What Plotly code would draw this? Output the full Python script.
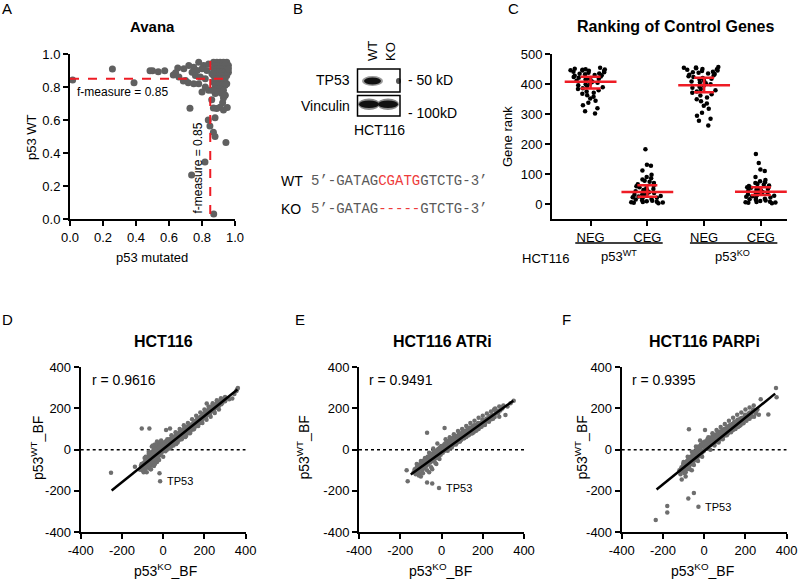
import plotly.graph_objects as go

W, H = 800, 581
def px(x): return x / W
def py(y): return 1 - y / H

FONT = "Liberation Sans, Arial, sans-serif"
GREY = "#606060"
RED = "#ee1c25"

# ---------------- Panel A data ----------------
A_mut = [0.016, 0.257, 0.388, 0.485, 0.50, 0.535, 0.574, 0.626, 0.64, 0.653, 0.687, 0.717, 0.727, 0.737,
         0.818, 0.838, 0.848, 0.871, 0.869, 0.879, 0.945, 0.889, 0.879, 0.909, 0.93, 0.953, 0.925, 0.869,
         0.859, 0.93, 0.94,
         0.72, 0.75, 0.78, 0.81, 0.84, 0.74, 0.77, 0.80, 0.83, 0.76, 0.79, 0.82, 0.78, 0.80, 0.82, 0.84,
         0.75, 0.70, 0.66, 0.69,
         0.87, 0.89, 0.91, 0.93, 0.95, 0.88, 0.90, 0.92, 0.94, 0.96, 0.87, 0.89, 0.91, 0.93, 0.95, 0.88,
         0.90, 0.92, 0.94, 0.96, 0.87, 0.89, 0.91, 0.93, 0.95, 0.88, 0.90, 0.92, 0.94, 0.87, 0.89, 0.91,
         0.93, 0.88, 0.90, 0.92, 0.94, 0.89, 0.91, 0.93, 0.90, 0.92, 0.94, 0.88, 0.86, 0.95, 0.96, 0.86]
A_wt = [0.842, 0.909, 0.826, 0.899, 0.899, 0.893, 0.899, 0.873, 0.887, 0.915, 0.836, 0.826, 0.671, 0.267,
        0.345, 0.60, 0.564, 0.03, 0.525, 0.50, 0.463, 0.67, 0.614, 0.677, 0.661, 0.675, 0.705, 0.672,
        0.723, 0.733, 0.75,
        0.93, 0.92, 0.95, 0.93, 0.94, 0.89, 0.90, 0.91, 0.90, 0.87, 0.86, 0.85, 0.82, 0.77, 0.80, 0.78,
        0.82, 0.84, 0.86, 0.91,
        0.95, 0.95, 0.95, 0.95, 0.95, 0.93, 0.93, 0.93, 0.93, 0.93, 0.91, 0.91, 0.91, 0.91, 0.91, 0.89,
        0.89, 0.89, 0.89, 0.89, 0.87, 0.87, 0.87, 0.87, 0.87, 0.85, 0.85, 0.85, 0.85, 0.83, 0.83, 0.83,
        0.83, 0.81, 0.81, 0.81, 0.81, 0.79, 0.79, 0.78, 0.77, 0.76, 0.75, 0.76, 0.78, 0.82, 0.91, 0.88]
A_threshold = 0.85

# ---------------- Panel C data ----------------
C_labels = ["NEG", "CEG", "NEG", "CEG"]
NEG_WT = [455, 452, 450, 449, 448, 447, 446, 445, 444, 442, 440, 438, 436, 435, 433, 431, 430, 428, 426,
          424, 422, 420, 418, 416, 414, 412, 410, 408, 405, 402, 400, 397, 394, 390, 387, 384, 380, 376,
          372, 368, 363, 358, 352, 345, 338, 330, 320, 310, 302]
CEG_WT = [183, 131, 128, 112, 98, 90, 86, 82, 78, 74, 70, 66, 62, 59, 56, 53, 50, 47, 45, 43, 41, 39, 37,
          35, 33, 31, 29, 27, 25, 23, 21, 19, 17, 15, 13, 11, 9, 8, 7, 6, 5, 4, 3]
NEG_KO = [458, 456, 455, 453, 451, 450, 448, 446, 444, 442, 440, 438, 436, 434, 432, 430, 427, 424, 421,
          418, 415, 412, 409, 406, 403, 400, 396, 392, 388, 384, 380, 376, 372, 367, 362, 356, 350, 343,
          336, 328, 318, 305, 295, 285, 278, 262]
CEG_KO = [167, 137, 115, 110, 90, 80, 76, 73, 70, 67, 64, 62, 60, 58, 56, 54, 52, 50, 48, 46, 44, 42, 40,
          38, 36, 34, 32, 30, 28, 26, 24, 22, 20, 18, 16, 14, 12, 10, 8, 7, 6, 5, 4, 3]
C_groups = [NEG_WT, CEG_WT, NEG_KO, CEG_KO]
C_mean = [408, 40, 397, 41]
C_upper = [425, 63, 422, 56]
C_lower = [386, 24, 373, 30]

# ---------------- Panel D data ----------------
D_x = [-112, -105, -100, -98, -95, -92, -90, -88, -85, -83, -80, -78, -76, -74, -72, -70, -68, -66, -64, -62,
       -60, -58, -56, -54, -52, -50, -48, -46, -44, -42, -40, -38, -36, -34, -32, -30, -28, -26, -24, -22,
       -20, -18, -16, -14, -12, -10, -8, -6, -4, -2, 0, 2, 4, 6, 8, -95, -60, -45, -30, -70, -55, -40, -85, -105,
       10, 12, 15, 18, 20, 22, 25, 28, 30, 32, 35, 38, 40, 42, 45, 48, 50, 52, 55, 58, 60, 62, 65, 68, 70, 72,
       75, 78, 80, 82, 85, 88, 90, 92, 95, 98, 100, 103, 106, 109, 112, 115, 118, 121, 124, 127, 130, 133,
       136, 139, 142, 145, 148, 150,
       155, 158, 162, 165, 168, 172, 175, 178, 182, 185, 188, 192, 195, 198, 202, 205, 208, 212, 215, 218,
       222, 225, 228, 232, 235, 240, 245, 250, 255, 260, 265, 270, 275, 282, 290, 300, 310, 320, 335, 345,
       355, 362, 358,
       20, 40, 60, 80, 100, 120, 140, 160, 180, 200, 220, 240, 260, 280, 30, 50, 70, 90, 110, 130, 150, 170,
       190, 210, 230, 250, 270, -90, -70, -50, -30, -10, -80, -60, -40, -20, 0,
       -108, -96, -86, -77, -69, -61, -53, -47, -39, -33, -27, -19, -11, -3, 5, 11, 17, 27, 37, 44, 53, 63,
       71, 79, 87, 97, 107, 117, 126, 137, 146, 157, 167, 177, 187, 197, 207, 217, 227, 237, 247, 257, 267,
       277, 287, 297,
       -104, -67, -253, -137, -18, 14, 33, 211, 300]
D_y = [-98, -85, -100, -70, -92, -80, -60, -95, -72, -50, -85, -62, -40, -78, -55, -30, -90, -65, -45, -20,
       -75, -55, -35, -10, -65, -42, -22, 0, -55, -32, -12, 10, -45, -25, -5, 20, -38, -15, 5, 30,
       -30, -8, 12, 35, -20, 0, 20, -12, 8, 28, -5, 15, 35, 0, 22, -110, -95, -80, -60, -10, 15, 25, -35, -70,
       10, 40, 25, 0, 45, 20, 35, 10, 50, 28, 40, 18, 55, 35, 48, 25, 60, 42, 55, 32, 70, 50, 62, 40, 78, 58,
       70, 50, 85, 65, 78, 58, 92, 72, 85, 65, 100, 80, 92, 72, 108, 88, 100, 80, 115, 95, 108, 90,
       122, 102, 115, 98, 130, 110,
       125, 140, 120, 148, 130, 155, 138, 148, 160, 140, 165, 150, 172, 155, 178, 160, 185, 168, 190, 172,
       195, 178, 200, 185, 205, 195, 210, 200, 218, 205, 225, 212, 230, 220, 240, 235, 250, 245, 248, 270,
       285, 300, 292,
       50, 70, 85, 100, 118, 130, 148, 165, 180, 195, 210, 225, 240, 250, 5, 20, 35, 50, 65, 80, 100, 115,
       130, 145, 160, 178, 195, -40, -20, 20, 40, 45, -110, -95, -70, -50, -35,
       -78, -66, -88, -52, -72, -38, -58, -18, -48, -2, -33, 10, -15, 18, 5, -8, 42, 30, 12, 60, 38, 28,
       75, 48, 92, 70, 62, 110, 86, 105, 128, 112, 150, 130, 145, 175, 160, 190, 168, 212, 185, 222, 215,
       235, 228, 248,
       103, 103, -112, -83, -115, 95, 103, 224, 256]
D_tp53 = (-15, -153)
D_fit_x = [-250, 360]
D_fit_y = [-198, 292]

# ---------------- Panel E data ----------------
E_x = [-135, -130, -125, -120, -115, -112, -108, -105, -100, -97, -94, -90, -87, -84, -80, -77, -74, -70, -67,
       -64, -60, -57, -54, -50, -47, -44, -40, -37, -34, -30, -27, -24, -20, -17, -14, -10, -7, -4, 0, -60,
       -45, -100, -25,
       3, 6, 10, 13, 16, 20, 23, 26, 30, 33, 36, 40, 43, 46, 50, 53, 56, 60, 63, 66, 70, 73, 76, 80, 83, 86,
       90, 93, 96, 100, 104, 108, 112, 116, 120, 124, 128, 132, 136, 140, 144, 148, 152, 156, 160, 164, 168,
       172, 176, 180,
       185, 190, 195, 200, 205, 210, 215, 220, 228, 235, 242, 250, 258, 265, 275, 285, 295, 300, 310, 320,
       335, 350, 280, 255,
       20, 40, 60, 80, 100, 120, 140, 160, 180, 200, 220, 240, 260, 280, 30, 50, 70, 90, 110, 130, 150, 170,
       190, 210, 230, 250, -120, -100, -80, -60, -40, -20, -110, -90, -70, -50, -30, -10,
       -128, -118, -104, -92, -82, -72, -62, -52, -42, -32, -22, -12, -2, 8, 18, 28, 38, 48, 58, 68, 78, 88,
       98, 108, 118, 128, 138, 148, 158, 168, 178, 188, 198, 208, 218, 232, 246, 262, 272, 290,
       -169, -164, -70, 15, -70, -45]
E_y = [-110, -95, -120, -85, -105, -75, -95, -115, -80, -65, -100, -70, -55, -90, -60, -45, -80, -50, -35,
       -72, -42, -28, -62, -35, -20, -55, -28, -12, -48, -20, -5, -40, -15, 2, -32, -8, 10, -25, -2, -110,
       -95, -130, -70,
       15, -15, 5, 25, -5, 12, 35, 2, 20, 40, 8, 28, 48, 15, 32, 55, 22, 40, 60, 28, 45, 65, 35, 52, 72, 40,
       58, 78, 48, 65, 85, 55, 72, 92, 62, 80, 98, 70, 88, 105, 78, 95, 112, 85, 100, 118, 92,
       108, 125, 100,
       118, 130, 112, 128, 140, 122, 135, 150, 140, 155, 148, 165, 158, 175, 178, 190, 200, 215, 168, 210,
       225, 238, 160, 195,
       50, 60, 75, 90, 100, 115, 130, 140, 155, 165, 175, 185, 200, 210, -5, 10, 25, 40, 55, 70, 80, 95,
       110, 120, 135, 150, -70, -55, -40, -15, 5, 30, -125, -115, -100, -85, -65, -45,
       -102, -112, -72, -88, -48, -68, -52, -22, -45, -8, -30, 5, 18, -8, 30, 8, 42, 25, 55, 35, 68, 50,
       80, 62, 92, 72, 108, 88, 118, 100, 130, 110, 145, 135, 150, 162, 170, 185, 188, 205,
       -100, -153, 82, 105, -160, -165]
E_tp53 = (-12, -186)
E_fit_x = [-149, 348]
E_fit_y = [-121, 238]

# ---------------- Panel F data ----------------
F_x = [-120, -115, -110, -106, -102, -98, -95, -91, -88, -84, -80, -77, -73, -70, -66, -63, -60, -56, -53,
       -50, -46, -43, -40, -36, -33, -30, -26, -23, -20, -16, -13, -10, -6, -3, 0, -109, -90, -60,
       4, 8, 12, 16, 20, 24, 28, 32, 36, 40, 44, 48, 52, 56, 60, 64, 68, 72, 76, 80, 84, 88, 92, 96, 100, 104,
       108, 112, 116, 120, 124, 128, 132, 136, 140, 144, 148, 152, 156, 160, 164, 168, 172, 176, 180,
       185, 190, 195, 200, 205, 210, 215, 220, 228, 235, 242, 250, 258, 265,
       20, 40, 60, 80, 100, 120, 140, 160, 180, 200, 220, 240, 30, 50, 70, 90, 110, 130, 150, 170, 190, 210,
       230, 250, -100, -80, -60, -40, -20, -90, -70, -50, -30, -10,
       -112, -100, -92, -83, -75, -67, -58, -51, -44, -37, -28, -21, -14, -7, 2, 10, 18, 26, 34, 42, 50, 58,
       66, 74, 82, 90, 98, 106, 114, 122, 130, 138, 146, 154, 162, 170, 178, 188, 198, 208, 222, 238, 252,
       -235, -179, -179, -77, -50, -74, 311, 348, 351, 274, 4]
F_y = [-100, -120, -85, -105, -70, -92, -115, -78, -60, -95, -68, -48, -82, -55, -35, -70, -45, -22, -60,
       -32, -10, -50, -20, 2, -40, -8, 15, -30, 5, 25, -18, 15, 35, -8, 20, -145, -130, -100,
       40, 5, 28, 50, 15, 38, 58, 22, 45, 65, 30, 52, 72, 38, 60, 80, 45, 68, 88, 55, 75, 95, 62, 85, 102, 70,
       92, 110, 80, 100, 118, 88, 108, 125, 95, 115, 132, 102, 122, 140, 110, 130, 148, 118, 138,
       155, 128, 150, 165, 140, 160, 175, 150, 170, 185, 160, 178, 195, 170,
       60, 80, 95, 110, 125, 140, 155, 170, 180, 195, 205, 215, 0, 20, 35, 50, 70, 85, 100, 115, 130, 150,
       160, 175, -60, -35, -10, 15, 45, -110, -95, -75, -55, -35,
       -95, -78, -100, -55, -80, -40, -62, -15, -45, 8, -25, 12, -5, 28, 10, 30, 52, 22, 45, 58, 35, 62,
       75, 48, 82, 70, 98, 78, 112, 92, 120, 105, 135, 118, 145, 125, 152, 140, 170, 158, 180, 195, 188,
       -342, -274, -305, -237, -210, 99, 171, 300, 254, 245, 95]
F_tp53 = (-28, -277)
F_fit_x = [-231, 344]
F_fit_y = [-194, 272]

BF_ticks = [-400, -200, 0, 200, 400]
BF_ticktext = ["-400", "-200", "0", "200", "400"]

fig = go.Figure()

# Panel A
fig.add_trace(go.Scatter(x=A_mut, y=A_wt, mode="markers", xaxis="x", yaxis="y",
                         marker=dict(color=GREY, size=7), cliponaxis=False, hoverinfo="skip"))
fig.add_trace(go.Scatter(x=[0, 0.98], y=[A_threshold, A_threshold], mode="lines", xaxis="x", yaxis="y",
                         line=dict(color=RED, width=2, dash="dash"), hoverinfo="skip"))
fig.add_trace(go.Scatter(x=[A_threshold, A_threshold], y=[0.03, 1.0], mode="lines", xaxis="x", yaxis="y",
                         line=dict(color=RED, width=2, dash="dash"), hoverinfo="skip"))

# Panel C
for i, vals in enumerate(C_groups):
    fig.add_trace(go.Box(x=[i] * len(vals), y=vals, boxpoints="all", jitter=1, pointpos=0, width=0.75,
                         fillcolor="rgba(0,0,0,0)", line=dict(color="rgba(0,0,0,0)", width=0),
                         marker=dict(color="black", size=4.5), xaxis="x2", yaxis="y2", hoverinfo="skip"))
fig.add_trace(go.Scatter(
    x=list(range(4)), y=C_mean, mode="markers", xaxis="x2", yaxis="y2",
    marker=dict(symbol="line-ew", size=37, line=dict(color=RED, width=2.5)),
    error_y=dict(type="data", symmetric=False,
                 array=[u - m for u, m in zip(C_upper, C_mean)],
                 arrayminus=[m - l for m, l in zip(C_mean, C_lower)],
                 color=RED, thickness=2.5, width=10),
    hoverinfo="skip"))

# Panels D, E, F
for xs, ys, fx, fy, tp, xa, ya in [(D_x, D_y, D_fit_x, D_fit_y, D_tp53, "x3", "y3"),
                                  (E_x, E_y, E_fit_x, E_fit_y, E_tp53, "x4", "y4"),
                                  (F_x, F_y, F_fit_x, F_fit_y, F_tp53, "x5", "y5")]:
    fig.add_trace(go.Scatter(x=[-400, 400], y=[0, 0], mode="lines", xaxis=xa, yaxis=ya,
                             line=dict(color="black", width=1.5, dash="dot"), hoverinfo="skip"))
    fig.add_trace(go.Scatter(x=xs + [tp[0]], y=ys + [tp[1]], mode="markers", xaxis=xa, yaxis=ya,
                             marker=dict(color="#6e6e6e", size=4.5), hoverinfo="skip"))
    fig.add_trace(go.Scatter(x=fx, y=fy, mode="lines", xaxis=xa, yaxis=ya,
                             line=dict(color="black", width=2.5), hoverinfo="skip"))

axis_common = dict(showline=True, linewidth=2, linecolor="black", ticks="outside", ticklen=5, tickwidth=2,
                   tickcolor="black", showgrid=False, zeroline=False,
                   tickfont=dict(size=13, color="black", family=FONT), fixedrange=True)

ydomA = [py(219), py(54)]
ydomD = [py(532), py(367.3)]

fig.update_layout(
    width=W, height=H, margin=dict(l=0, r=0, t=0, b=0, autoexpand=False),
    paper_bgcolor="white", plot_bgcolor="white", showlegend=False,
    font=dict(family=FONT, size=13, color="black"),
    xaxis=dict(axis_common, domain=[px(70), px(235)], range=[0, 1], tickvals=[0, 0.2, 0.4, 0.6, 0.8, 1.0],
               tickformat=".1f", anchor="y"),
    yaxis=dict(axis_common, domain=ydomA, range=[0, 1], tickvals=[0, 0.2, 0.4, 0.6, 0.8, 1.0],
               tickformat=".1f", anchor="x"),
    xaxis2=dict(axis_common, domain=[px(552), px(787)], range=[-0.68, 3.46], tickvals=[0, 1, 2, 3],
                ticktext=C_labels, anchor="y2"),
    yaxis2=dict(axis_common, domain=[py(219), py(54.3)], range=[-50, 500], tickvals=[0, 100, 200, 300, 400, 500],
                anchor="x2"),
    xaxis3=dict(axis_common, domain=[px(80.7), px(245.7)], range=[-400, 400], tickvals=BF_ticks,
                ticktext=BF_ticktext, anchor="y3"),
    yaxis3=dict(axis_common, domain=ydomD, range=[-400, 400], tickvals=BF_ticks, ticktext=BF_ticktext,
                anchor="x3"),
    xaxis4=dict(axis_common, domain=[px(359), px(524)], range=[-400, 400], tickvals=BF_ticks,
                ticktext=BF_ticktext, anchor="y4"),
    yaxis4=dict(axis_common, domain=ydomD, range=[-400, 400], tickvals=BF_ticks, ticktext=BF_ticktext,
                anchor="x4"),
    xaxis5=dict(axis_common, domain=[px(621.7), px(786.7)], range=[-400, 400], tickvals=BF_ticks,
                ticktext=BF_ticktext, anchor="y5"),
    yaxis5=dict(axis_common, domain=ydomD, range=[-400, 400], tickvals=BF_ticks, ticktext=BF_ticktext,
                anchor="x5"),
)

ann = []
def A(text, x, y, size=13, bold=False, xanchor="center", yanchor="middle", angle=0, color="black",
      family=FONT, xref="paper", yref="paper", xshift=0):
    if bold:
        text = "<b>" + text + "</b>"
    ann.append(dict(text=text, x=x, y=y, xref=xref, yref=yref, showarrow=False, xanchor=xanchor,
                    yanchor=yanchor, textangle=angle, font=dict(size=size, color=color, family=family),
                    xshift=xshift))

# panel letters
for letter, lx, ly in [("A", 7, 8), ("B", 297.5, 8), ("C", 513, 8), ("D", 7, 320), ("E", 300, 320),
                       ("F", 566, 320)]:
    A(letter, px(lx), py(ly), size=15)

# Panel A texts
A("Avana", px(152), py(27), size=15, bold=True)
A("p53 mutated", px(152), py(257))
A("p53 WT", px(32), py(137), angle=-90)
A("f-measure = 0.85", px(75), py(91.7), size=12, xanchor="left")
A("f-measure = 0.85", px(198.3), py(168.3), size=12, angle=-90)

# Panel C texts
A("Ranking of Control Genes", px(675), py(27), size=16, bold=True)
A("Gene rank", px(508), py(137), angle=-90)
A("HCT116", px(520), py(258), xanchor="left")
A("p53<sup>WT</sup>", 0.5, py(256), xref="x2")
A("p53<sup>KO</sup>", 2.5, py(256), xref="x2")

# Panel B texts
A("WT", px(372.5), py(63.5), angle=-90, yanchor="bottom")
A("KO", px(390), py(63.5), angle=-90, yanchor="bottom")
A("TP53", px(352), py(80.5), size=14, xanchor="right")
A("Vinculin", px(352), py(106.5), size=14, xanchor="right")
A("- 50 kD", px(406), py(80.5), size=14, xanchor="left")
A("- 100kD", px(406), py(113), size=14, xanchor="left")
A("HCT116", px(379), py(130), size=14)
A("WT", px(279), py(181), size=14, xanchor="left")
A("KO", px(279), py(209), size=14, xanchor="left")
MONO = "Liberation Mono, Courier New, monospace"
SEQG = "#5a5a5a"
A("<span style='color:%s'>5’-GATAG</span><span style='color:%s'>CGATG</span>"
  "<span style='color:%s'>GTCTG-3’</span>" % (SEQG, "#ee3b3b", SEQG),
  px(309), py(181), size=14, xanchor="left", family=MONO, color=SEQG)
A("<span style='color:%s'>5’-GATAG</span><span style='color:%s'>-----</span>"
  "<span style='color:%s'>GTCTG-3’</span>" % (SEQG, "#ee3b3b", SEQG),
  px(309), py(209), size=14, xanchor="left", family=MONO, color=SEQG)

# Panels D-F texts
for title, cx, xt, yt, tp, xa, ya in [("HCT116", 163.5, 165, 37, D_tp53, "x3", "y3"),
                                      ("HCT116 ATRi", 442, 440, 303.5, E_tp53, "x4", "y4"),
                                      ("HCT116 PARPi", 704, 702, 581.5, F_tp53, "x5", "y5")]:
    A(title, px(cx), py(341), size=16, bold=True)
    A("p53<sup>KO</sup>_BF", px(xt), py(570), size=14)
    A("p53<sup>WT</sup>_BF", px(yt), py(448), size=14, angle=-90)
    A("TP53", tp[0], tp[1], size=11, xanchor="left", xref=xa, yref=ya, xshift=5)
for rtext, rx in [("r = 0.9616", 90), ("r = 0.9491", 366.7), ("r = 0.9395", 630)]:
    A(rtext, px(rx), py(380), size=14, xanchor="left")

fig.update_layout(annotations=ann)

# Panel B blot and underline shapes
shapes = []
def rect(x0, y0, x1, y1, **kw):
    shapes.append(dict(type="rect", xref="paper", yref="paper", x0=px(x0), x1=px(x1), y0=py(y1), y1=py(y0), **kw))
def ell(x0, y0, x1, y1, color):
    shapes.append(dict(type="circle", xref="paper", yref="paper", x0=px(x0), x1=px(x1), y0=py(y1), y1=py(y0),
                       fillcolor=color, line=dict(width=0)))

ell(362, 76, 383, 86, "#9a9a9a")
ell(364, 77.5, 381, 84.5, "#111111")
ell(396, 78, 401, 84, "#555555")
ell(358, 98.5, 380, 110, "#8a8a8a")
ell(377, 98.5, 399, 110, "#8a8a8a")
ell(359, 100.5, 379, 108, "#111111")
ell(378, 100.5, 398, 108, "#111111")
rect(357.5, 69, 400, 92, line=dict(color="black", width=1.5), fillcolor="rgba(0,0,0,0)")
rect(357.5, 95.5, 400, 116, line=dict(color="black", width=1.5), fillcolor="rgba(0,0,0,0)")

for x0, x1 in [(-0.27, 1.27), (1.75, 3.29)]:
    shapes.append(dict(type="line", xref="x2", yref="paper", x0=x0, x1=x1, y0=py(243), y1=py(243),
                       line=dict(color="black", width=1.5)))

fig.update_layout(shapes=shapes)

fig.write_html("out.html", config={"displayModeBar": False, "staticPlot": True},
               post_script="document.body.style.margin='0px';")
